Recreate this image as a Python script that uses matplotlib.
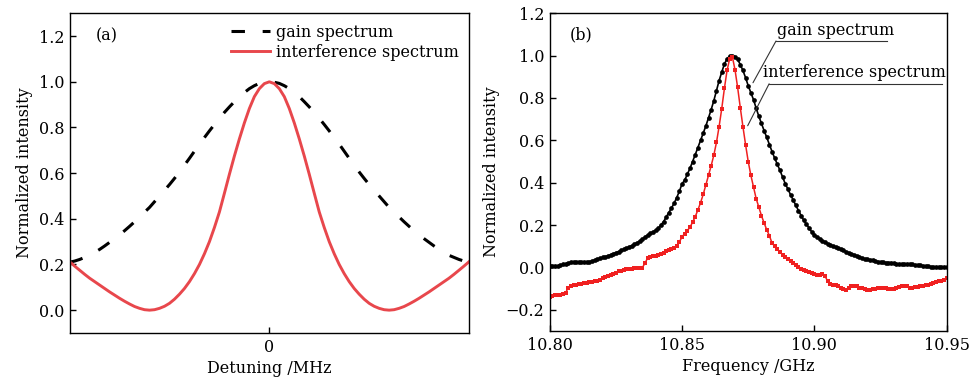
import numpy as np
import matplotlib
matplotlib.use("Agg")
import matplotlib.pyplot as plt

plt.rcParams['font.family'] = ['DejaVu Serif']
plt.rcParams['mathtext.fontset'] = 'dejavuserif'

# ---------------- panel (a) data ----------------
detuning = [-1.000, -0.975, -0.950, -0.925, -0.900, -0.875, -0.850, -0.825, -0.800, -0.775,
            -0.750, -0.725, -0.700, -0.675, -0.650, -0.625, -0.600, -0.575, -0.550, -0.525,
            -0.500, -0.475, -0.450, -0.425, -0.400, -0.375, -0.350, -0.325, -0.300, -0.275,
            -0.250, -0.225, -0.200, -0.175, -0.150, -0.125, -0.100, -0.075, -0.050, -0.025,
            0.000, 0.025, 0.050, 0.075, 0.100, 0.125, 0.150, 0.175, 0.200, 0.225,
            0.250, 0.275, 0.300, 0.325, 0.350, 0.375, 0.400, 0.425, 0.450, 0.475,
            0.500, 0.525, 0.550, 0.575, 0.600, 0.625, 0.650, 0.675, 0.700, 0.725,
            0.750, 0.775, 0.800, 0.825, 0.850, 0.875, 0.900, 0.925, 0.950, 0.975, 1.000]
gain_a = [0.210, 0.215, 0.222, 0.231, 0.240, 0.253, 0.266, 0.281, 0.297, 0.313,
          0.330, 0.348, 0.367, 0.387, 0.408, 0.429, 0.450, 0.475, 0.500, 0.525,
          0.550, 0.577, 0.605, 0.635, 0.665, 0.696, 0.727, 0.756, 0.785, 0.813,
          0.840, 0.866, 0.890, 0.913, 0.935, 0.953, 0.970, 0.983, 0.993, 0.998,
          1.000, 0.998, 0.993, 0.983, 0.970, 0.953, 0.935, 0.913, 0.890, 0.866,
          0.840, 0.813, 0.785, 0.756, 0.727, 0.696, 0.665, 0.635, 0.605, 0.577,
          0.550, 0.525, 0.500, 0.475, 0.450, 0.429, 0.408, 0.387, 0.367, 0.348,
          0.330, 0.313, 0.297, 0.281, 0.266, 0.253, 0.240, 0.231, 0.222, 0.215, 0.210]
interf_a = [0.212, 0.193, 0.175, 0.157, 0.140, 0.125, 0.110, 0.095, 0.080, 0.066,
            0.052, 0.039, 0.027, 0.016, 0.008, 0.002, 0.000, 0.002, 0.008, 0.017,
            0.030, 0.048, 0.070, 0.095, 0.125, 0.160, 0.200, 0.247, 0.300, 0.362,
            0.430, 0.512, 0.595, 0.675, 0.750, 0.820, 0.883, 0.935, 0.970, 0.992,
            1.000, 0.992, 0.970, 0.935, 0.883, 0.820, 0.750, 0.675, 0.595, 0.512,
            0.430, 0.362, 0.300, 0.247, 0.200, 0.160, 0.125, 0.095, 0.070, 0.048,
            0.030, 0.017, 0.008, 0.002, 0.000, 0.002, 0.008, 0.016, 0.027, 0.039,
            0.052, 0.066, 0.080, 0.095, 0.110, 0.125, 0.140, 0.157, 0.175, 0.193, 0.212]

# ---------------- panel (b) data ----------------
freq_mhz_offset = list(range(0, 151))  # MHz above 10.80 GHz
gain_b = [0.009, 0.008, 0.008, 0.007, 0.010, 0.014, 0.018, 0.021, 0.025, 0.027,
          0.025, 0.024, 0.024, 0.024, 0.024, 0.027, 0.031, 0.035, 0.039, 0.043,
          0.047, 0.051, 0.055, 0.060, 0.065, 0.070, 0.075, 0.080, 0.086, 0.091,
          0.097, 0.103, 0.110, 0.117, 0.125, 0.134, 0.144, 0.153, 0.161, 0.168,
          0.176, 0.184, 0.200, 0.216, 0.238, 0.259, 0.280, 0.303, 0.330, 0.360,
          0.395, 0.412, 0.440, 0.468, 0.500, 0.533, 0.566, 0.600, 0.634, 0.668,
          0.706, 0.745, 0.787, 0.835, 0.882, 0.922, 0.960, 0.985, 0.998, 1.000,
          0.995, 0.982, 0.958, 0.930, 0.896, 0.858, 0.825, 0.792, 0.752, 0.714,
          0.680, 0.646, 0.614, 0.580, 0.547, 0.516, 0.487, 0.458, 0.427, 0.395,
          0.370, 0.343, 0.318, 0.293, 0.268, 0.245, 0.222, 0.204, 0.186, 0.168,
          0.154, 0.144, 0.135, 0.127, 0.120, 0.113, 0.107, 0.101, 0.096, 0.091,
          0.086, 0.080, 0.075, 0.069, 0.064, 0.060, 0.055, 0.050, 0.045, 0.040,
          0.038, 0.036, 0.034, 0.031, 0.028, 0.026, 0.024, 0.023, 0.023, 0.023,
          0.020, 0.018, 0.016, 0.015, 0.014, 0.014, 0.014, 0.014, 0.012, 0.011,
          0.010, 0.008, 0.006, 0.005, 0.003, 0.002, 0.001, 0.001, 0.001, 0.001,
          0.001]
interf_b = [-0.138, -0.135, -0.132, -0.129, -0.128, -0.126, -0.120, -0.095, -0.087, -0.084,
            -0.081, -0.079, -0.077, -0.075, -0.072, -0.070, -0.068, -0.066, -0.063, -0.058,
            -0.052, -0.046, -0.040, -0.035, -0.030, -0.024, -0.019, -0.015, -0.011, -0.008,
            -0.007, -0.006, -0.005, -0.004, -0.003, -0.001, 0.020, 0.045, 0.049, 0.052,
            0.054, 0.057, 0.064, 0.070, 0.076, 0.082, 0.088, 0.094, 0.100, 0.120,
            0.145, 0.159, 0.174, 0.190, 0.214, 0.240, 0.272, 0.306, 0.345, 0.390,
            0.435, 0.480, 0.530, 0.590, 0.665, 0.750, 0.845, 0.930, 0.985, 0.995,
            0.934, 0.850, 0.755, 0.665, 0.580, 0.500, 0.435, 0.380, 0.325, 0.285,
            0.245, 0.210, 0.178, 0.150, 0.115, 0.100, 0.085, 0.072, 0.060, 0.050,
            0.040, 0.030, 0.020, 0.010, 0.002, -0.006, -0.013, -0.018, -0.023, -0.027,
            -0.032, -0.036, -0.038, -0.030, -0.040, -0.065, -0.080, -0.083, -0.085, -0.086,
            -0.095, -0.104, -0.106, -0.098, -0.090, -0.086, -0.090, -0.095, -0.099, -0.103,
            -0.106, -0.105, -0.102, -0.100, -0.098, -0.097, -0.098, -0.099, -0.100, -0.100,
            -0.100, -0.098, -0.094, -0.090, -0.086, -0.090, -0.096, -0.095, -0.093, -0.091,
            -0.089, -0.087, -0.085, -0.082, -0.079, -0.075, -0.070, -0.066, -0.062, -0.058,
            -0.052]
freq_ghz = [10.80 + m / 1000.0 for m in freq_mhz_offset]

yticks_a = [0.0, 0.2, 0.4, 0.6, 0.8, 1.0, 1.2]
yticks_b = [-0.2, 0.0, 0.2, 0.4, 0.6, 0.8, 1.0, 1.2]
xticks_b = [10.80, 10.85, 10.90, 10.95]

FS = 11.5
fig = plt.figure(figsize=(9.69, 3.80), dpi=100)
axA = fig.add_axes([0.0719, 0.1237, 0.4121, 0.8413])
axB = fig.add_axes([0.5673, 0.1290, 0.4097, 0.8361])

for ax in (axA, axB):
    for s in ax.spines.values():
        s.set_linewidth(1.0)
    ax.tick_params(direction='in', length=4, width=1.0, labelsize=FS,
                   top=False, right=False, pad=4)

# ---- panel (a)
axA.plot(detuning, gain_a, color='black', lw=2.2, linestyle=(0, (4.4, 5.8)),
         label='gain spectrum')
axA.plot(detuning, interf_a, color='#e8474c', lw=2.1, label='interference spectrum')
axA.set_xlim(-1, 1)
axA.set_ylim(-0.1, 1.3)
axA.set_xticks([0])
axA.set_xticklabels(['0'])
axA.set_yticks(yticks_a)
axA.set_yticklabels(['%.1f' % v for v in yticks_a])
axA.set_xlabel('Detuning /MHz', fontsize=FS, labelpad=3)
axA.set_ylabel('Normalized intensity', fontsize=FS, labelpad=4)
axA.text(0.093, 0.929, '(a)', transform=axA.transAxes, fontsize=FS,
         ha='center', va='center')
axA.legend(loc='upper left', bbox_to_anchor=(0.405, 0.968), frameon=False,
           fontsize=FS, borderpad=0, handlelength=2.4, handletextpad=0.4,
           labelspacing=0.2, borderaxespad=0)

# ---- panel (b)
axB.plot(freq_ghz, gain_b, color='black', lw=1.2, marker='o', markersize=3.4,
         markeredgewidth=0)
axB.plot(freq_ghz, interf_b, color='#f02020', lw=1.1, marker='s', markersize=3.0,
         markeredgewidth=0)
axB.set_xlim(10.80, 10.95)
axB.set_ylim(-0.3, 1.2)
axB.set_xticks(xticks_b)
axB.set_xticklabels(['%.2f' % v for v in xticks_b])
axB.set_yticks(yticks_b)
axB.set_yticklabels(['\u22120.2' if v < 0 else '%.1f' % v for v in yticks_b])
axB.set_xlabel('Frequency /GHz', fontsize=FS, labelpad=3)
axB.set_ylabel('Normalized intensity', fontsize=FS, labelpad=4)
axB.text(0.078, 0.932, '(b)', transform=axB.transAxes, fontsize=FS,
         ha='center', va='center')

# leader-line annotations
lead = dict(color='#333333', lw=0.8)
axB.annotate('', xy=(10.8768, 0.872), xytext=(10.8855, 1.069),
             arrowprops=dict(arrowstyle='-', shrinkA=0, shrinkB=0, **lead))
axB.plot([10.8855, 10.9275], [1.069, 1.069], **lead)
axB.text(10.8859, 1.080, 'gain spectrum', fontsize=FS, ha='left', va='bottom')
axB.annotate('', xy=(10.8748, 0.669), xytext=(10.8829, 0.867),
             arrowprops=dict(arrowstyle='-', shrinkA=0, shrinkB=0, **lead))
axB.plot([10.8829, 10.9482], [0.867, 0.867], **lead)
axB.text(10.8806, 0.878, 'interference spectrum', fontsize=FS, ha='left', va='bottom')

fig.savefig('out.png', dpi=100)
